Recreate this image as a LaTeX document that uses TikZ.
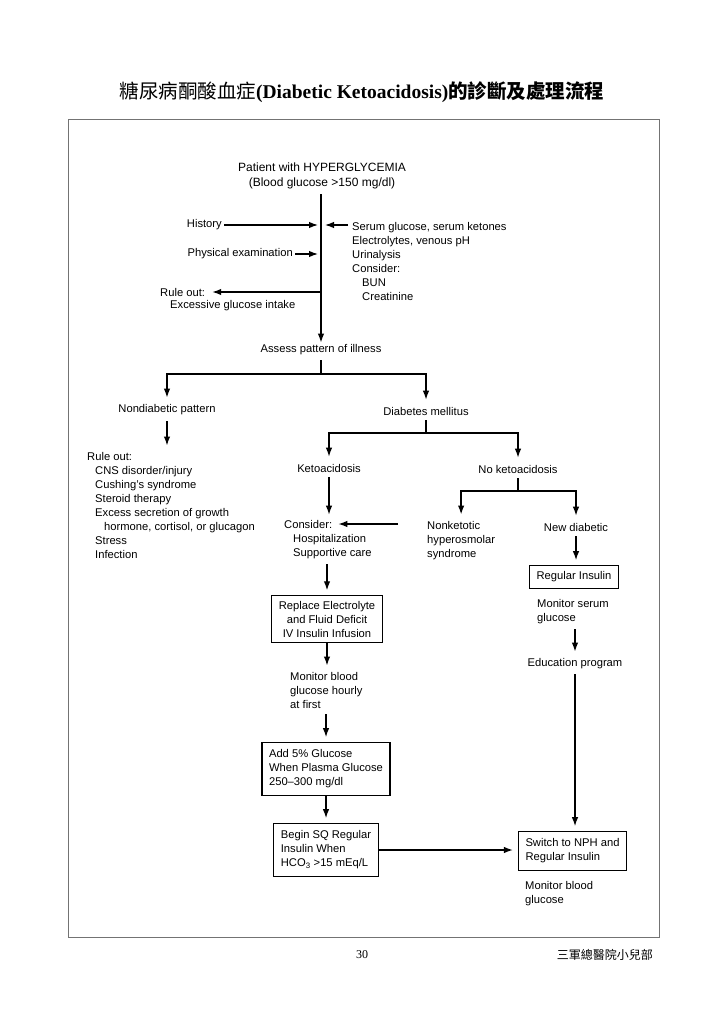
\documentclass[tikz,border=0pt]{standalone}
\usepackage{fontspec}
\setmainfont{Liberation Sans}
\newfontfamily\titlefont{Liberation Serif}
\newfontfamily\cjk{Noto Sans CJK TC}
\usetikzlibrary{arrows.meta}

\begin{document}
\begin{tikzpicture}[x=1pt,y=-1pt,
    every node/.style={font=\fontsize{11.2}{14}\selectfont, inner sep=2pt},
    arr/.style={-{Latex[length=9pt,width=6.5pt]}, line width=1.3pt, shorten >=5pt},
    ln/.style={line width=1.3pt},
    box/.style={draw, line width=1.2pt, inner xsep=7pt, inner ysep=5pt}]
  \useasboundingbox (0,0) rectangle (723,1024);
  % page: title, frame, footer
  \node (title) at (362,92) {\fontsize{19.5}{24}\selectfont{\cjk 糖尿病酮酸血症}{\titlefont\bfseries (Diabetic Ketoacidosis)}{\cjk\bfseries 的診斷及處理流程}};
  \draw[black!55, line width=0.8pt] (68,119) rectangle (659,937);
  \node (pageno) at (362,955) {\titlefont\fontsize{12}{14}\selectfont 30};
  \node[anchor=east] (dept) at (655,955) {\cjk\fontsize{12}{14}\selectfont 三軍總醫院小兒部};

  % initial workup
  \node[align=center, font=\fontsize{12}{15}\selectfont] (patient) at (322,176) {Patient with HYPERGLYCEMIA\\(Blood glucose >150 mg/dl)};
  \node[anchor=east] (hist) at (224,225) {History};
  \node[anchor=east] (physex) at (295,254) {Physical examination};
  \node[anchor=north west, align=left] (labs) at (350,220.5) {Serum glucose, serum ketones\\Electrolytes, venous pH\\Urinalysis\\Consider:\\\hspace*{10pt}BUN\\\hspace*{10pt}Creatinine};
  \node[anchor=west] (ruleout) at (158,292) {Rule out:};
  \node[anchor=west] (excess) at (168,306) {Excessive glucose intake};
  \node (assess) at (321,350) {Assess pattern of illness};

  \draw[arr, shorten >=0pt, shorten <=3pt] (assess.north |- patient.south) -- (assess.north);
  \draw[arr, shorten >=3pt] (hist.east) -- (hist.east -| assess.north);
  \draw[arr, shorten >=3pt] (physex.east) -- (physex.east -| assess.north);
  \draw[arr, shorten <=2pt, shorten >=4pt] (labs.north west |- hist.east) -- (hist.east -| assess.north);
  \draw[arr] (ruleout.east -| assess.north) -- (ruleout.east);

  % nondiabetic / diabetic split
  \node (nondiab) at (167,410) {Nondiabetic pattern};
  \node (dm) at (426,411) {Diabetes mellitus};
  \node[anchor=north west, align=left] (rulelist) at (85,450.5) {Rule out:\\\hspace*{8pt}CNS disorder/injury\\\hspace*{8pt}Cushing's syndrome\\\hspace*{8pt}Steroid therapy\\\hspace*{8pt}Excess secretion of growth\\\hspace*{17pt}hormone, cortisol, or glucagon\\\hspace*{8pt}Stress\\\hspace*{8pt}Infection};
  \coordinate (fork1) at (321,374);
  \draw[ln, shorten <=3pt] (assess.south) -- (fork1);
  \draw[arr] (fork1) -| (nondiab.north);
  \draw[arr] (fork1) -| (dm.north);
  \draw[arr, shorten <=4pt] (nondiab.south) -- (nondiab.south |- rulelist.north);

  \node (keto) at (329,468) {Ketoacidosis};
  \node (noketo) at (518,469) {No ketoacidosis};
  \coordinate (fork2) at (426,433);
  \draw[ln, shorten <=3pt] (dm.south) -- (fork2);
  \draw[arr] (fork2) -| (keto.north);
  \draw[arr] (fork2) -| (noketo.north);

  \node[anchor=north west, align=left] (nonket) at (425,519.5) {Nonketotic\\hyperosmolar\\syndrome};
  \node (newdb) at (576,527) {New diabetic};
  \coordinate (fork3) at (518,491);
  \draw[ln, shorten <=3pt] (noketo.south) -- (fork3);
  \draw[arr] (fork3) -| (nonket.north);
  \draw[arr] (fork3) -| (newdb.north);

  % ketoacidosis branch
  \node[anchor=west] (consider) at (282,524) {Consider:};
  \node[anchor=north west, align=left] (hosp) at (291,532.5) {Hospitalization\\Supportive care};
  \draw[arr, shorten <=3pt, shorten >=3pt] (keto.south) -- (keto.south |- consider.north);
  \draw[arr, shorten <=27pt, shorten >=4pt] (nonket.west |- consider.east) -- (consider.east);

  \node[box, align=center] (replace) at (327,619) {Replace Electrolyte\\and Fluid Deficit\\IV Insulin Infusion};
  \node[anchor=north west, align=left] (mon) at (288,670.5) {Monitor blood\\glucose hourly\\at first};
  \node[box, align=left, inner ysep=7pt] (add5) at (326,769) {Add 5\% Glucose\\When Plasma Glucose\\250--300 mg/dl};
  \node[box, align=left, inner ysep=7pt] (beginsq) at (326,850) {Begin SQ Regular\\Insulin When\\HCO\textsubscript{3} >15 mEq/L};
  \draw[arr, shorten <=3pt] (replace.north |- hosp.south) -- (replace.north);
  \draw[arr] (replace.south) -- (replace.south |- mon.north);
  \draw[arr, shorten <=3pt] (add5.north |- mon.south) -- (add5.north);
  \draw[arr] (add5.south) -- (beginsq.north);

  % new diabetic branch
  \node[box, inner ysep=6pt] (reg) at (574,577) {Regular Insulin};
  \node[anchor=north west, align=left] (monserum) at (535,597.5) {Monitor serum\\glucose};
  \node (edu) at (575,664) {Education program};
  \node[box, align=left, inner ysep=7pt] (switch) at (572.5,851) {Switch to NPH and\\Regular Insulin};
  \node[anchor=north west, align=left] (monblood) at (523,879.5) {Monitor blood\\glucose};
  \draw[arr, shorten <=3pt] (newdb.south) -- (newdb.south |- reg.north);
  \draw[arr, shorten <=3pt] (edu.north |- monserum.south) -- (edu.north);
  \draw[arr, shorten <=3pt] (edu.south) -- (edu.south |- switch.north);
  \draw[arr] (beginsq.east) -- (beginsq.east -| switch.west);
\end{tikzpicture}
\end{document}
